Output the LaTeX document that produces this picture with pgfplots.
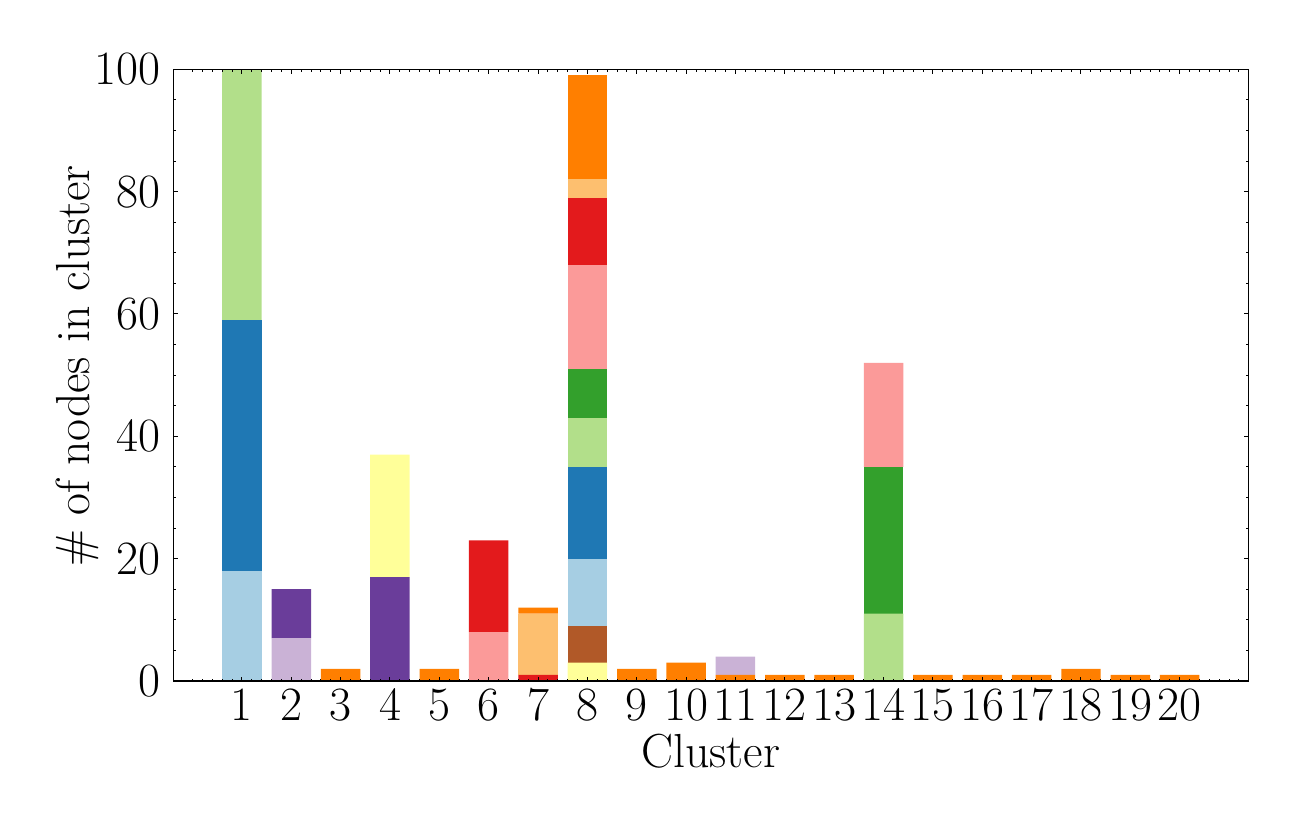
\documentclass[border=0pt]{standalone}
\usepackage{fontspec}
\usepackage{pgfplots}
\usepackage{pgfplotstable}
\pgfplotsset{compat=1.18}
\definecolor{p1}{HTML}{A6CEE3}
\definecolor{p2}{HTML}{1F78B4}
\definecolor{p3}{HTML}{B2DF8A}
\definecolor{p4}{HTML}{33A02C}
\definecolor{p5}{HTML}{FB9A99}
\definecolor{p6}{HTML}{E31A1C}
\definecolor{p7}{HTML}{FDBF6F}
\definecolor{p8}{HTML}{FF7F00}
\definecolor{p9}{HTML}{CAB2D6}
\definecolor{p10}{HTML}{6A3D9A}
\definecolor{p11}{HTML}{FFFF99}
\definecolor{p12}{HTML}{B15928}
\pgfplotstableread{
x  c0 c1 c2 c3 c4 c5 c6 c7 c8 c9 c10 c11 c12 c13 c14 c15 c16 c17 c18 c19
1  18 41 41 0  0  0  0  0  0  0  0   0   0   0   0   0   0   0   0   0
2  0  0  0  0  0  0  0  0  7  8  0   0   0   0   0   0   0   0   0   0
3  0  0  0  0  0  0  0  2  0  0  0   0   0   0   0   0   0   0   0   0
4  0  0  0  0  0  0  0  0  0  17 20  0   0   0   0   0   0   0   0   0
5  0  0  0  0  0  0  0  2  0  0  0   0   0   0   0   0   0   0   0   0
6  0  0  0  0  8  15 0  0  0  0  0   0   0   0   0   0   0   0   0   0
7  0  0  0  0  0  1  10 1  0  0  0   0   0   0   0   0   0   0   0   0
8  0  0  0  0  0  0  0  0  0  0  3   6   11  15  8   8   17  11  3   17
9  0  0  0  0  0  0  0  2  0  0  0   0   0   0   0   0   0   0   0   0
10 0  0  0  0  0  0  0  3  0  0  0   0   0   0   0   0   0   0   0   0
11 0  0  0  0  0  0  0  1  3  0  0   0   0   0   0   0   0   0   0   0
12 0  0  0  0  0  0  0  1  0  0  0   0   0   0   0   0   0   0   0   0
13 0  0  0  0  0  0  0  1  0  0  0   0   0   0   0   0   0   0   0   0
14 0  0  11 24 17 0  0  0  0  0  0   0   0   0   0   0   0   0   0   0
15 0  0  0  0  0  0  0  1  0  0  0   0   0   0   0   0   0   0   0   0
16 0  0  0  0  0  0  0  1  0  0  0   0   0   0   0   0   0   0   0   0
17 0  0  0  0  0  0  0  1  0  0  0   0   0   0   0   0   0   0   0   0
18 0  0  0  0  0  0  0  2  0  0  0   0   0   0   0   0   0   0   0   0
19 0  0  0  0  0  0  0  1  0  0  0   0   0   0   0   0   0   0   0   0
20 0  0  0  0  0  0  0  1  0  0  0   0   0   0   0   0   0   0   0   0
}\datatable
\begin{document}
\begin{tikzpicture}
\useasboundingbox (0,0) rectangle (650pt,415pt);
\begin{axis}[
  at={(86.65pt,74.5pt)}, anchor=south west,
  scale only axis, width=537.5pt, height=305.85pt,
  ybar stacked, bar width=0.8,
  xmin=-0.39, xmax=21.39, ymin=0, ymax=100,
  xtick={1,...,20}, minor xtick={0,0.2,...,21.2},
  ytick={0,20,...,100}, minor ytick={0,5,...,100},
  tick align=inside, xtick pos=both, ytick pos=both,
  major tick length=2.25pt, minor tick length=1.2pt,
  every tick/.style={black, line width=0.5pt},
  axis line style={line width=0.6pt},
  axis on top,
  tick label style={font=\fontsize{23.9}{28}\selectfont},
  label style={font=\fontsize{23.9}{28}\selectfont},
  /pgf/number format/assume math mode=true,
  xticklabel style={inner sep=0pt, yshift=-3.6pt, anchor=north},
  yticklabel style={inner sep=0pt, xshift=-6.3pt, anchor=east},
  xlabel={Cluster}, ylabel={\# of nodes in cluster},
  xlabel style={at={(axis description cs:0.5,-0.1406)}, anchor=base, inner sep=0pt},
  ylabel style={at={(axis description cs:-0.0784,0.515)}, anchor=base, inner sep=0pt},
]
\addplot[fill=p1, draw=none] table[x=x,y=c0]{\datatable};
\addplot[fill=p2, draw=none] table[x=x,y=c1]{\datatable};
\addplot[fill=p3, draw=none] table[x=x,y=c2]{\datatable};
\addplot[fill=p4, draw=none] table[x=x,y=c3]{\datatable};
\addplot[fill=p5, draw=none] table[x=x,y=c4]{\datatable};
\addplot[fill=p6, draw=none] table[x=x,y=c5]{\datatable};
\addplot[fill=p7, draw=none] table[x=x,y=c6]{\datatable};
\addplot[fill=p8, draw=none] table[x=x,y=c7]{\datatable};
\addplot[fill=p9, draw=none] table[x=x,y=c8]{\datatable};
\addplot[fill=p10, draw=none] table[x=x,y=c9]{\datatable};
\addplot[fill=p11, draw=none] table[x=x,y=c10]{\datatable};
\addplot[fill=p12, draw=none] table[x=x,y=c11]{\datatable};
\addplot[fill=p1, draw=none] table[x=x,y=c12]{\datatable};
\addplot[fill=p2, draw=none] table[x=x,y=c13]{\datatable};
\addplot[fill=p3, draw=none] table[x=x,y=c14]{\datatable};
\addplot[fill=p4, draw=none] table[x=x,y=c15]{\datatable};
\addplot[fill=p5, draw=none] table[x=x,y=c16]{\datatable};
\addplot[fill=p6, draw=none] table[x=x,y=c17]{\datatable};
\addplot[fill=p7, draw=none] table[x=x,y=c18]{\datatable};
\addplot[fill=p8, draw=none] table[x=x,y=c19]{\datatable};
\end{axis}
\end{tikzpicture}
\end{document}
